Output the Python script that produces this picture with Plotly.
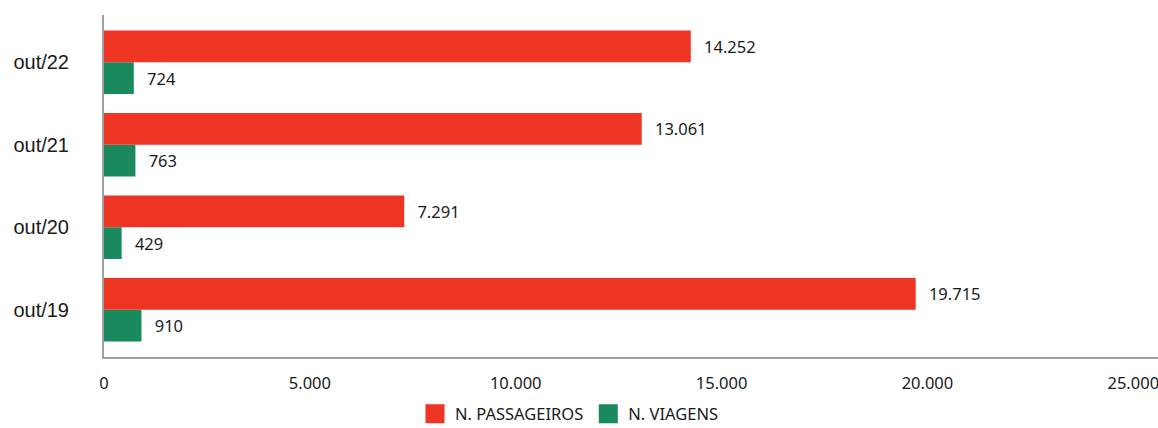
import plotly.graph_objects as go

categories = ["out/19", "out/20", "out/21", "out/22"]
passageiros = [19715, 7291, 13061, 14252]
viagens = [910, 429, 763, 724]
x_ticks = [0, 5000, 10000, 15000, 20000, 25000]

RED = "#EE3524"
GREEN = "#1A8A5E"
FONT = "Noto Sans, Open Sans, sans-serif"
label_font = dict(family=FONT, size=16.5, color="#1a1a1a")
GAP = "\u00a0\u00a0\u200a"

fig = go.Figure()
fig.add_trace(go.Bar(
    y=categories, x=viagens, orientation="h", name="N. VIAGENS",
    marker=dict(color=GREEN, line=dict(width=0)),
    texttemplate=GAP + "%{x:,d}", textposition="outside",
    textfont=label_font, constraintext="none", cliponaxis=False,
    showlegend=False, hoverinfo="skip",
))
fig.add_trace(go.Bar(
    y=categories, x=passageiros, orientation="h", name="N. PASSAGEIROS",
    marker=dict(color=RED, line=dict(width=0)),
    texttemplate=GAP + "%{x:,d}", textposition="outside",
    textfont=label_font, constraintext="none", cliponaxis=False,
    showlegend=False, hoverinfo="skip",
))
# legend entries (larger square swatches)
for name, color in [("N. PASSAGEIROS", RED), ("N. VIAGENS", GREEN)]:
    fig.add_trace(go.Scatter(
        x=[None], y=[None], mode="markers", name=name,
        marker=dict(symbol="square", size=16, color=color, line=dict(color=color, width=3)),
        showlegend=True, hoverinfo="skip",
    ))

fig.update_layout(
    width=1158, height=428,
    margin=dict(l=104, r=0, t=15, b=71, autoexpand=False),
    paper_bgcolor="white", plot_bgcolor="white",
    barmode="group", bargap=0.23, bargroupgap=0,
    separators=",.",
    showlegend=True,
    legend=dict(orientation="h", xref="container", x=415 / 1158, xanchor="left",
                yref="container", y=(428 - 414) / 428, yanchor="middle",
                font=dict(family=FONT, size=16.5, color="#1a1a1a"),
                traceorder="normal", itemwidth=30, itemsizing="trace"),
    xaxis=dict(range=[0, 25600], tickvals=x_ticks, tickformat=",d",
               showgrid=False, zeroline=False, showline=True, linecolor="#a0a0a0",
               linewidth=2, ticks="", tickfont=label_font, ticklabelstandoff=10,
               ticklabeloverflow="allow", fixedrange=True),
    yaxis=dict(type="category", categoryorder="array", categoryarray=categories,
               range=[-0.573, 3.573], showgrid=False, zeroline=False, showline=True,
               linecolor="#a0a0a0", linewidth=2, ticks="",
               tickfont=dict(family="Liberation Sans, Arial, sans-serif", size=20, color="#1a1a1a"),
               ticklabelstandoff=29, fixedrange=True),
)

fig.write_html("out.html", config={"displayModeBar": False})
